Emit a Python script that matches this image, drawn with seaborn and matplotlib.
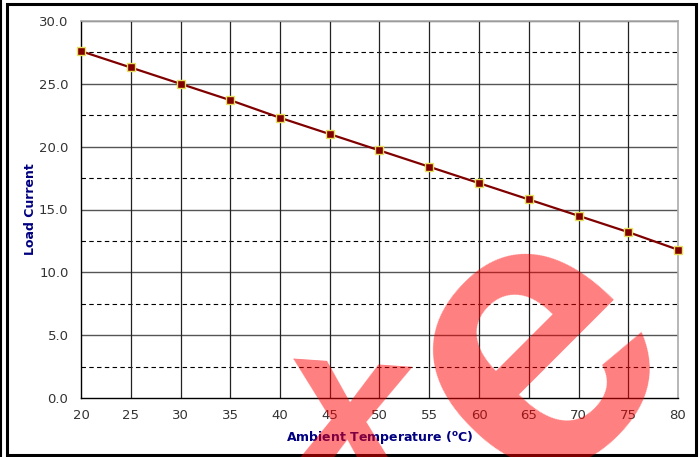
import numpy as np
import pandas as pd
import matplotlib
matplotlib.use("Agg")
import matplotlib.pyplot as plt
import seaborn as sns
from matplotlib.patches import Rectangle
from matplotlib.lines import Line2D

# data
temps = [20, 25, 30, 35, 40, 45, 50, 55, 60, 65, 70, 75, 80]
load_current = [27.6, 26.3, 25.0, 23.7, 22.3, 21.0, 19.7, 18.4, 17.1, 15.8, 14.5, 13.2, 11.8]

df = pd.DataFrame({"temp": temps, "current": load_current})

sns.set_style("white")
plt.rcParams["font.family"] = ["DejaVu Sans"]

fig = plt.figure(figsize=(7, 4.57), dpi=100)
ax = fig.add_axes([81 / 700, 1 - 398 / 457, (678 - 81) / 700, (398 - 21) / 457])

# grid: solid major, dashed minor horizontals
for y in np.arange(5, 30.1, 5):
    ax.axhline(y, color="#555555", lw=1.0, zorder=1)
for y in np.arange(2.5, 30, 5):
    ax.axhline(y, color="black", lw=0.8, ls=(0, (4, 3)), zorder=1)
for x in temps[1:-1]:
    ax.axvline(x, color="#222222", lw=0.9, zorder=1)

sns.lineplot(data=df, x="temp", y="current", ax=ax, color="#800000", lw=1.6,
             marker="s", markersize=6, markerfacecolor="#800000",
             markeredgecolor="#E8E060", markeredgewidth=1.0, zorder=3, clip_on=False)

ax.set_xlim(20, 80)
ax.set_ylim(0, 30)
ax.set_xticks(temps)
ax.set_yticks(np.arange(0, 30.1, 5))
ax.set_yticklabels([f"{v:.1f}" for v in np.arange(0, 30.1, 5)])
ax.tick_params(axis="both", which="major", length=5, width=1, color="black",
               labelsize=9.5, labelcolor="#333333", direction="out", pad=4)
ax.tick_params(axis="x", length=0, pad=8)

for side in ["left", "bottom"]:
    ax.spines[side].set_color("black")
    ax.spines[side].set_linewidth(1.0)
for side in ["top", "right"]:
    ax.spines[side].set_color("#AAAAAA")
    ax.spines[side].set_linewidth(1.2)

ax.set_xlabel("Ambient Temperature ($\\mathbf{^{o}}$C)", fontsize=9, fontweight="bold",
              color="#000080")
ax.set_ylabel("Load Current", fontsize=9, fontweight="bold", color="#000080")
ax.xaxis.set_label_coords(0.5, (398 - 438) / 377, transform=ax.transAxes)
ax.xaxis.label.set_va("center")
ax.yaxis.set_label_coords((30 - 81) / 597, 0.5, transform=ax.transAxes)
ax.yaxis.label.set_va("center")

# outer frame
fig.patches.append(Rectangle((7 / 700, 2 / 457), 689 / 700, 451 / 457, transform=fig.transFigure,
                             fill=False, ec="black", lw=2.2))
fig.add_artist(Line2D([1 / 700, 1 / 700], [0, 1], transform=fig.transFigure, color="black", lw=1.5))

# watermark
fig.text(536 / 700, 1 - 352 / 457, "e", fontsize=285, fontweight="bold", color="red", alpha=0.5,
         rotation=45, ha="center", va="center", family="Liberation Sans", clip_on=False)
fig.text(348 / 700, 1 - 424 / 457, "x", fontsize=165, fontweight="bold", color="red", alpha=0.5,
         rotation=-4, ha="center", va="center", family="Liberation Sans", clip_on=False)

fig.savefig("out.png", dpi=100)
